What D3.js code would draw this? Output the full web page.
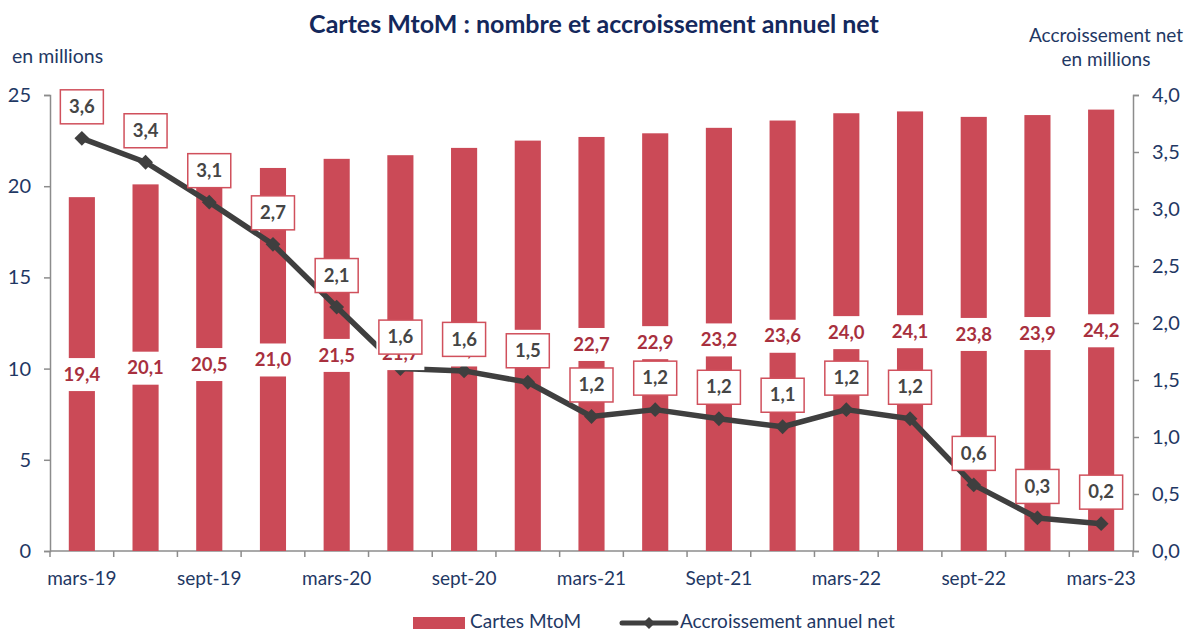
<!DOCTYPE html>
<html>
<head>
<meta charset="utf-8">
<script src="https://cdn.jsdelivr.net/npm/d3@7"></script>
<style>
  body { margin: 0; background: #fff; }
  svg { font-family: Lato, "Open Sans", sans-serif; }
</style>
</head>
<body>
<svg width="1190" height="632"></svg>
<script>
// trimestres
const categories = ["mars-19", "juin-19", "sept-19", "déc-19", "mars-20", "juin-20", "sept-20", "déc-20",
  "mars-21", "juin-21", "Sept-21", "déc-21", "mars-22", "juin-22", "sept-22", "déc-22", "mars-23"];
// nombre de cartes MtoM (millions)
const cartes = [19.4, 20.1, 20.5, 21.0, 21.5, 21.7, 22.1, 22.5, 22.7, 22.9, 23.2, 23.6, 24.0, 24.1, 23.8, 23.9, 24.2];
// accroissement annuel net (millions)
const accroissement = [3.62, 3.41, 3.06, 2.69, 2.14, 1.60, 1.58, 1.48, 1.18, 1.24, 1.16, 1.09, 1.24, 1.16, 0.58, 0.29, 0.24];
const leftTicks = [0, 5, 10, 15, 20, 25];
const rightTicks = [0, 0.5, 1, 1.5, 2, 2.5, 3, 3.5, 4];

const navy = "#1f3864";
const barColor = "#cb4a57";
const lineColor = "#3f3f3f";
const fmt = d => d3.format(".1f")(d).replace(".", ",");

let svg = d3.select("svg");
const area = { left: 50, right: 1133, top: 95, bottom: 551 };

let scX = d3.scaleBand()
  .domain(categories)
  .range([area.left, area.right])
  .paddingInner(0.59)
  .paddingOuter(0.295);
let scY = d3.scaleLinear().domain([0, 25]).range([area.bottom, area.top]);
let scY2 = d3.scaleLinear().domain([0, 4]).range([area.bottom, area.top]);
const step = (area.right - area.left) / categories.length;
const cx = d => scX(d) + scX.bandwidth() / 2;

// axes
let axL = svg.append("g")
  .attr("transform", `translate(${area.left},0)`)
  .call(d3.axisLeft(scY).tickValues(leftTicks).tickSize(6).tickPadding(13));
let axR = svg.append("g")
  .attr("transform", `translate(${area.right},0)`)
  .call(d3.axisRight(scY2).tickValues(rightTicks).tickSize(6).tickPadding(13).tickFormat(fmt));

// axe X: graduations entre les catégories
let axX = svg.append("g");
axX.append("line")
  .attr("x1", area.left).attr("x2", area.right)
  .attr("y1", area.bottom).attr("y2", area.bottom)
  .attr("stroke", "#8c8c8c").attr("stroke-width", 1.5);
axX.selectAll(".tk")
  .data(d3.range(categories.length + 1))
  .enter()
  .append("line")
  .attr("x1", i => area.left + i * step).attr("x2", i => area.left + i * step)
  .attr("y1", area.bottom).attr("y2", area.bottom + 6)
  .attr("stroke", "#8c8c8c").attr("stroke-width", 1.5);
axX.selectAll(".lb")
  .data(categories.filter((d, i) => i % 2 == 0))
  .enter()
  .append("text")
  .attr("x", d => cx(d))
  .attr("y", 585)
  .attr("text-anchor", "middle")
  .attr("fill", navy)
  .style("font-size", "19px")
  .text(d => d);

[axL, axR].forEach(ax => {
  ax.select(".domain").attr("stroke", "#8c8c8c").attr("stroke-width", 1.5);
  ax.selectAll(".tick line").attr("stroke", "#8c8c8c").attr("stroke-width", 1.5);
  ax.selectAll(".tick text").attr("fill", navy).style("font-size", "20px").style("font-family", "Lato, sans-serif");
});

// barres
svg.selectAll(".bar")
  .data(cartes)
  .enter()
  .append("rect")
  .attr("x", (d, i) => scX(categories[i]))
  .attr("y", d => scY(d))
  .attr("width", scX.bandwidth())
  .attr("height", d => scY(0) - scY(d))
  .attr("fill", barColor);

// courbe
let line = d3.line()
  .x((d, i) => cx(categories[i]))
  .y(d => scY2(d));
svg.append("path")
  .datum(accroissement)
  .attr("d", line)
  .attr("fill", "none")
  .attr("stroke", lineColor)
  .attr("stroke-width", 5.5)
  .attr("stroke-linejoin", "round");
svg.selectAll(".mk")
  .data(accroissement)
  .enter()
  .append("path")
  .attr("d", d3.symbol(d3.symbolDiamond2, 140))
  .attr("transform", (d, i) => `translate(${cx(categories[i])},${scY2(d)})`)
  .attr("fill", lineColor);

// étiquettes des barres (fond blanc)
let bl = svg.selectAll(".bl")
  .data(cartes)
  .enter()
  .append("g")
  .attr("transform", (d, i) => `translate(${cx(categories[i])},${scY(d / 2)})`);
bl.append("rect")
  .attr("x", -24).attr("y", -16).attr("width", 48).attr("height", 33)
  .attr("fill", "#fff");
bl.append("text")
  .attr("text-anchor", "middle")
  .attr("dy", "0.36em")
  .attr("fill", "#a8303e")
  .style("font-size", "18.5px")
  .style("font-weight", "bold")
  .text(d => fmt(d));

// étiquettes de la courbe (cadre rouge)
let ll = svg.selectAll(".ll")
  .data(accroissement)
  .enter()
  .append("g")
  .attr("transform", (d, i) => `translate(${cx(categories[i])},${scY2(d) - 32})`);
ll.append("rect")
  .attr("x", -21.5).attr("y", -16.5).attr("width", 43).attr("height", 34)
  .attr("fill", "#fff")
  .attr("stroke", "#d0505c")
  .attr("stroke-width", 1.5);
ll.append("text")
  .attr("text-anchor", "middle")
  .attr("dy", "0.36em")
  .attr("fill", "#454545")
  .style("font-size", "18.5px")
  .style("font-weight", "bold")
  .text(d => fmt(d));

// titres
svg.append("text")
  .attr("x", 594).attr("y", 33)
  .attr("text-anchor", "middle")
  .attr("fill", "#14285c")
  .style("font-size", "25px")
  .style("font-weight", "bold")
  .text("Cartes MtoM : nombre et accroissement annuel net");
svg.append("text")
  .attr("x", 12).attr("y", 63)
  .attr("fill", navy)
  .style("font-size", "19.5px")
  .text("en millions");
svg.append("text")
  .attr("x", 1106).attr("y", 42)
  .attr("text-anchor", "middle")
  .attr("fill", navy)
  .style("font-size", "19px")
  .text("Accroissement net");
svg.append("text")
  .attr("x", 1106).attr("y", 66)
  .attr("text-anchor", "middle")
  .attr("fill", navy)
  .style("font-size", "19px")
  .text("en millions");

// légende
let lg = svg.append("g");
lg.append("rect")
  .attr("x", 413).attr("y", 617).attr("width", 52).attr("height", 12)
  .attr("fill", barColor);
lg.append("text")
  .attr("x", 470).attr("y", 628)
  .attr("fill", navy)
  .style("font-size", "19px")
  .text("Cartes MtoM");
lg.append("line")
  .attr("x1", 622).attr("x2", 676).attr("y1", 623).attr("y2", 623)
  .attr("stroke", lineColor).attr("stroke-width", 5).attr("stroke-linecap", "round");
lg.append("path")
  .attr("d", d3.symbol(d3.symbolDiamond2, 90))
  .attr("transform", "translate(649,623)")
  .attr("fill", lineColor);
lg.append("text")
  .attr("x", 680).attr("y", 628)
  .attr("fill", navy)
  .style("font-size", "19px")
  .text("Accroissement annuel net");
</script>
</body>
</html>
